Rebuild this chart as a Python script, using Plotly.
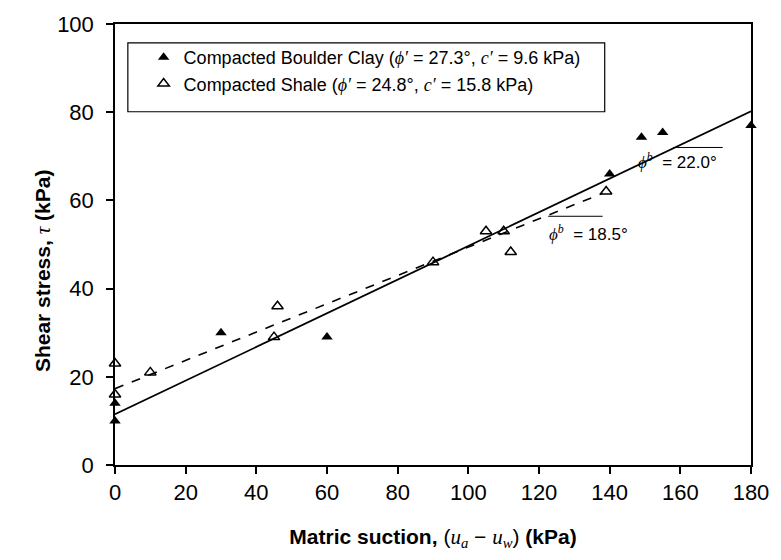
import plotly.graph_objects as go

# Data
clay_x = [0, 0, 30, 60, 140, 149, 155, 180]
clay_y = [10, 14, 30, 29, 66, 74.3, 75.4, 77]
shale_x = [0, 0, 10, 45, 46, 90, 105, 110, 112, 139]
shale_y = [23, 16, 21, 29, 36, 46, 53, 53, 48.3, 62]

clay_fit_x = [0, 180]
clay_fit_y = [11.5, 80.2]
shale_fit_x = [0, 138]
shale_fit_y = [17.3, 61.6]

SERIF = "font-family:'Liberation Serif','Times New Roman',serif"


def m(t):
    return f"<span style=\"{SERIF}\"><i>{t}</i></span>"


clay_label = f"Compacted Boulder Clay ({m('ϕ′')} = 27.3°, {m('c′')} = 9.6 kPa)"
shale_label = f"Compacted Shale ({m('ϕ′')} = 24.8°, {m('c′')} = 15.8 kPa)"

FONT = "Liberation Sans, Arial, sans-serif"

fig = go.Figure()
fig.add_trace(go.Scatter(x=clay_fit_x, y=clay_fit_y, mode="lines",
                         line=dict(color="black", width=1.8), showlegend=False,
                         hoverinfo="skip"))
fig.add_trace(go.Scatter(x=shale_fit_x, y=shale_fit_y, mode="lines",
                         line=dict(color="black", width=1.6, dash="dash"), showlegend=False,
                         hoverinfo="skip"))
fig.add_trace(go.Scatter(x=clay_x, y=clay_y, mode="markers", name=clay_label,
                         marker=dict(symbol="triangle-up", size=10, color="black"),
                         cliponaxis=False, legendgroup="a"))
fig.add_trace(go.Scatter(x=shale_x, y=shale_y, mode="markers", name=shale_label,
                         marker=dict(symbol="triangle-up-open", size=10, color="black",
                                     line=dict(width=1.5, color="black")),
                         cliponaxis=False, legendgroup="b"))

# legend frame
fig.add_shape(type="rect", xref="paper", yref="paper", x0=0.0202, x1=0.770,
              y0=0.801, y1=0.957, line=dict(color="black", width=1.2),
              fillcolor="rgba(0,0,0,0)")

# slope-angle annotations
fig.add_shape(type="line", x0=158, x1=172, y0=72, y1=72,
              line=dict(color="black", width=1))
fig.add_annotation(x=159.3, y=69.0, text=f"{m('ϕ<sup>b</sup>')}  = 22.0°", showarrow=False,
                   font=dict(family=FONT, size=17, color="black"))
fig.add_shape(type="line", x0=122.6, x1=138, y0=56.4, y1=56.4,
              line=dict(color="black", width=1))
fig.add_annotation(x=134, y=52.7, text=f"{m('ϕ<sup>b</sup>')}  = 18.5°", showarrow=False,
                   font=dict(family=FONT, size=17, color="black"))

# y-axis title (placed as in the reference)
fig.add_annotation(xref="paper", yref="paper", x=-0.135, y=0.44,
                   text=f"<b>Shear stress, </b>{m('τ')}<b> (kPa)</b>", textangle=-90,
                   showarrow=False, font=dict(family=FONT, size=21, color="black"))

axis_common = dict(showgrid=False, zeroline=False, showline=True, linecolor="black",
                   linewidth=1.5, mirror=True, ticks="outside", ticklen=7, tickwidth=1.5,
                   tickcolor="black",
                   tickfont=dict(family=FONT, size=22, color="black"))

fig.update_layout(
    width=781, height=560,
    margin=dict(l=115, r=23, t=18, b=95),
    paper_bgcolor="white", plot_bgcolor="white",
    xaxis=dict(range=[0, 180], dtick=20,
               title=dict(text=f"<b>Matric suction, </b>({m('u<sub>a</sub>')} − {m('u<sub>w</sub>')}) <b>(kPa)</b>",
                          font=dict(family=FONT, size=21, color="black"),
                          standoff=25),
               **axis_common),
    yaxis=dict(range=[0, 100], dtick=20, ticklabelstandoff=8, **axis_common),
    legend=dict(x=0.045, y=0.966, xanchor="left", yanchor="top",
                borderwidth=0, bgcolor="rgba(0,0,0,0)",
                font=dict(family=FONT, size=18, color="black"),
                tracegroupgap=0),
)

fig.write_html("out.html")
